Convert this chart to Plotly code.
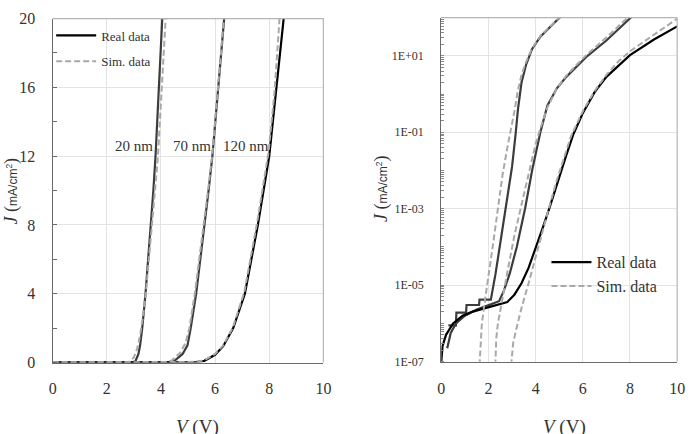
import plotly.graph_objects as go

# ---------------- Left panel (linear J) ----------------
v20_real = [0, 2.9, 3.05, 3.17, 3.23, 3.31, 3.43, 3.53, 3.63, 3.72, 3.8, 3.92, 4.05, 4.08]
j20_real = [0, 0, 0.05, 0.5, 1.0, 2.0, 4.0, 6.0, 8.0, 10.0, 12.0, 16.0, 20.0, 21.0]
v20_sim = [0, 2.8, 3.0, 3.12, 3.22, 3.32, 3.44, 3.56, 3.67, 3.78, 3.89, 4.03, 4.18, 4.21]
j20_sim = [0, 0, 0.3, 0.8, 1.5, 2.5, 4.0, 6.0, 8.0, 10.0, 12.0, 16.0, 20.0, 21.0]

v70_real = [0, 4.2, 4.5, 4.8, 4.98, 5.1, 5.3, 5.46, 5.61, 5.76, 5.9, 6.13, 6.34, 6.39]
j70_real = [0, 0, 0.1, 0.5, 1.0, 2.0, 4.0, 6.0, 8.0, 10.0, 12.0, 16.0, 20.0, 21.0]
v70_sim = [0, 4.1, 4.4, 4.7, 4.9, 5.05, 5.25, 5.42, 5.58, 5.74, 5.89, 6.12, 6.33, 6.38]
j70_sim = [0, 0, 0.12, 0.55, 1.1, 2.0, 4.0, 6.0, 8.0, 10.0, 12.0, 16.0, 20.0, 21.0]

v120_real = [0, 5.0, 5.3, 5.6, 6.0, 6.3, 6.67, 7.1, 7.58, 8.0, 8.27, 8.53, 8.6]
j120_real = [0, 0, 0.03, 0.1, 0.45, 0.95, 2.0, 4.0, 8.0, 12.0, 16.0, 20.0, 21.0]
v120_sim = [0, 5.0, 5.3, 5.6, 6.0, 6.3, 6.66, 7.08, 7.56, 7.98, 8.2, 8.38, 8.43]
j120_sim = [0, 0, 0.04, 0.13, 0.5, 1.0, 2.05, 4.1, 8.2, 12.3, 15.8, 20.0, 21.0]

thickness_labels = ["20 nm", "70 nm", "120 nm"]
label_v = [3.0, 5.15, 7.15]
label_j = [12.6, 12.6, 12.6]

# ---------------- Right panel (log10 J) ----------------
lv20_real = [0.3, 0.62, 0.64, 1.05, 1.07, 1.6, 1.62, 2.1, 2.3, 2.55, 2.8, 3.0, 3.15, 3.25, 3.4, 3.6, 3.85, 4.2, 4.6, 5.0, 5.05]
lj20_real = [-6.05, -6.05, -5.72, -5.72, -5.52, -5.52, -5.38, -5.38, -4.7, -3.7, -2.8, -1.9, -1.05, -0.4, 0.3, 0.78, 1.18, 1.5, 1.75, 1.98, 2.02]
lv20_sim = [1.62, 1.66, 1.72, 1.85, 2.0, 2.2, 2.4, 2.6, 2.8, 2.95, 3.1, 3.25, 3.4, 3.6, 3.85, 4.2, 4.6, 5.0, 5.05]
lj20_sim = [-7.1, -6.5, -6.0, -5.4, -4.8, -3.9, -3.0, -2.1, -1.4, -0.95, -0.45, 0.1, 0.5, 0.85, 1.2, 1.52, 1.76, 2.0, 2.03]

lv70_real = [0.25, 0.4, 0.62, 1.0, 1.5, 2.0, 2.45, 2.65, 2.9, 3.2, 3.55, 3.85, 4.2, 4.5, 4.9, 5.3, 5.7, 6.2, 7.0, 8.0, 8.05]
lj70_real = [-6.65, -6.25, -6.0, -5.8, -5.64, -5.53, -5.42, -5.15, -4.7, -4.0, -3.0, -2.0, -1.0, -0.3, 0.15, 0.45, 0.7, 1.0, 1.4, 1.98, 2.01]
lv70_sim = [2.29, 2.33, 2.4, 2.6, 2.85, 3.1, 3.4, 3.7, 4.0, 4.2, 4.5, 4.9, 5.3, 5.7, 6.2, 7.0, 7.9, 7.95]
lj70_sim = [-7.1, -6.4, -6.0, -5.3, -4.5, -3.7, -2.9, -2.1, -1.3, -0.9, -0.35, 0.15, 0.48, 0.74, 1.05, 1.48, 2.0, 2.03]

lv120_real = [0, 0.05, 0.2, 0.5, 0.9, 1.3, 1.75, 2.3, 2.8, 3.1, 3.4, 3.7, 4.0, 4.3, 4.6, 5.0, 5.3, 5.6, 6.0, 6.5, 7.0, 8.0, 9.0, 10.0]
lj120_real = [-7, -6.6, -6.3, -6.0, -5.8, -5.7, -5.62, -5.52, -5.44, -5.25, -4.95, -4.55, -4.05, -3.5, -2.95, -2.15, -1.6, -1.05, -0.5, 0.05, 0.45, 1.02, 1.42, 1.77]
lv120_sim = [2.96, 3.05, 3.2, 3.4, 3.7, 4.0, 4.3, 4.6, 4.9, 5.2, 5.5, 6.0, 6.5, 7.0, 7.5, 8.0, 9.0, 10.0]
lj120_sim = [-7.1, -6.5, -6.1, -5.6, -4.95, -4.25, -3.6, -2.9, -2.25, -1.65, -1.1, -0.45, 0.08, 0.5, 0.85, 1.12, 1.55, 1.97]

x_ticks = [0, 2, 4, 6, 8, 10]
y_ticks_lin = [0, 4, 8, 12, 16, 20]
y_ticks_log = [1e-7, 1e-5, 1e-3, 1e-1, 1e1]
y_ticktext_log = ["1E-07", "1E-05", "1E-03", "1E-01", "1E+01"]


def tolin(vals):
    return [10 ** v for v in vals]


W, H = 694, 434
SERIF = "Liberation Serif"
TXT = "#333333"
REAL_DARK = "#3c3c3c"
REAL_BLACK = "#000000"
SIM = "#a8a8a8"
DASH = "6px,3px"

fig = go.Figure()

# left real
for v, j, c, show in [(v20_real, j20_real, REAL_DARK, False),
                      (v70_real, j70_real, REAL_DARK, False),
                      (v120_real, j120_real, REAL_BLACK, True)]:
    fig.add_trace(go.Scatter(x=v, y=j, mode="lines", name="Real data",
                             line=dict(color=c, width=2.2),
                             showlegend=show, legendgroup="real", legend="legend",
                             xaxis="x", yaxis="y"))
for v, j, show in [(v20_sim, j20_sim, True), (v70_sim, j70_sim, False), (v120_sim, j120_sim, False)]:
    fig.add_trace(go.Scatter(x=v, y=j, mode="lines", name="Sim. data",
                             line=dict(color=SIM, width=2, dash=DASH),
                             showlegend=show, legendgroup="sim", legend="legend",
                             xaxis="x", yaxis="y"))

# right real
for v, j, c, show in [(lv20_real, lj20_real, REAL_DARK, False),
                      (lv70_real, lj70_real, REAL_DARK, False),
                      (lv120_real, lj120_real, REAL_BLACK, True)]:
    fig.add_trace(go.Scatter(x=v, y=tolin(j), mode="lines", name="Real data",
                             line=dict(color=c, width=2.2),
                             showlegend=show, legendgroup="real2", legend="legend2",
                             xaxis="x2", yaxis="y2"))
for v, j, show in [(lv20_sim, lj20_sim, True), (lv70_sim, lj70_sim, False), (lv120_sim, lj120_sim, False)]:
    fig.add_trace(go.Scatter(x=v, y=tolin(j), mode="lines", name="Sim. data",
                             line=dict(color=SIM, width=2, dash=DASH),
                             showlegend=show, legendgroup="sim2", legend="legend2",
                             xaxis="x2", yaxis="y2"))

# domains from pixel positions
lx0, lx1, ly0, ly1 = 49.5, 325, 11, 369
rx0, rx1, ry0, ry1 = 445, 685, 10, 368

axis_common = dict(showgrid=True, gridcolor="#e3e3e3", gridwidth=1, zeroline=False,
                   showline=True, linecolor="#6a6a6a", linewidth=1.3, ticks="")

fig.update_layout(
    width=W, height=H, margin=dict(l=0, r=0, t=0, b=0),
    paper_bgcolor="white", plot_bgcolor="white",
    xaxis=dict(domain=[lx0 / W, lx1 / W], anchor="y", range=[0, 10], tickvals=x_ticks,
               ticklabelstandoff=11, tickfont=dict(family=SERIF, size=16, color=TXT), **axis_common),
    yaxis=dict(domain=[1 - ly1 / H, 1 - ly0 / H], anchor="x", range=[0, 20], tickvals=y_ticks_lin,
               ticklabelstandoff=13, tickfont=dict(family=SERIF, size=16, color=TXT),
               minor=dict(ticks="inside", ticklen=4, tickcolor="#6a6a6a", dtick=2, showgrid=False),
               **axis_common),
    xaxis2=dict(domain=[rx0 / W, rx1 / W], anchor="y2", range=[0, 10], tickvals=x_ticks,
                ticklabelstandoff=12, tickfont=dict(family=SERIF, size=16, color=TXT), **axis_common),
    yaxis2=dict(domain=[1 - ry1 / H, 1 - ry0 / H], anchor="x2", type="log", range=[-7, 2],
                tickvals=y_ticks_log, ticktext=y_ticktext_log, ticklabelstandoff=14,
                tickfont=dict(family=SERIF, size=12, color=TXT),
                minor=dict(ticks="inside", ticklen=3, tickcolor="#8a8a8a", dtick="D1", showgrid=False),
                **axis_common),
    legend=dict(x=48 / W, y=1 - 13 / H, xanchor="left", yanchor="top", bgcolor="rgba(0,0,0,0)",
                font=dict(family=SERIF, size=13, color=TXT), tracegroupgap=6,
                itemwidth=40, traceorder="grouped"),
    legend2=dict(x=552 / W, y=1 - 247 / H, xanchor="left", yanchor="top", bgcolor="rgba(0,0,0,0)",
                 font=dict(family=SERIF, size=16, color=TXT), tracegroupgap=0,
                 itemwidth=40, traceorder="grouped"),
    showlegend=True,
)

# light top/right frame edges
for xr, yr in [("x", "y"), ("x2", "y2")]:
    fig.add_shape(type="line", xref=f"{xr} domain", yref=f"{yr} domain", x0=0, x1=1, y0=1, y1=1,
                  line=dict(color="#b5b5b5", width=1.2))
    fig.add_shape(type="line", xref=f"{xr} domain", yref=f"{yr} domain", x0=1, x1=1, y0=0, y1=1,
                  line=dict(color="#b5b5b5", width=1.2))

# thickness labels
for t, vx, jy in zip(thickness_labels, label_v, label_j):
    fig.add_annotation(x=vx, y=jy, xref="x", yref="y", text=t, showarrow=False,
                       xanchor="center", yanchor="middle",
                       font=dict(family=SERIF, size=15, color=TXT))

ytitle = ("<i>J</i> (<span style=\"font-family:'Liberation Sans';font-size:12px\">"
          "mA/cm<sup>2</sup></span>)")
for xp, yp in [(8, 190), (384, 188)]:
    fig.add_annotation(x=xp / W, y=1 - yp / H, xref="paper", yref="paper", text=ytitle, textangle=-90,
                       xanchor="center", yanchor="middle", showarrow=False,
                       font=dict(family=SERIF, size=18, color=TXT))
for xp in [197, 570]:
    fig.add_annotation(x=xp / W, y=1 - 436 / H, xref="paper", yref="paper", text="<i>V</i> (V)",
                       xanchor="center", yanchor="middle", showarrow=False,
                       font=dict(family=SERIF, size=19, color=TXT))

fig.write_html("out.html")
